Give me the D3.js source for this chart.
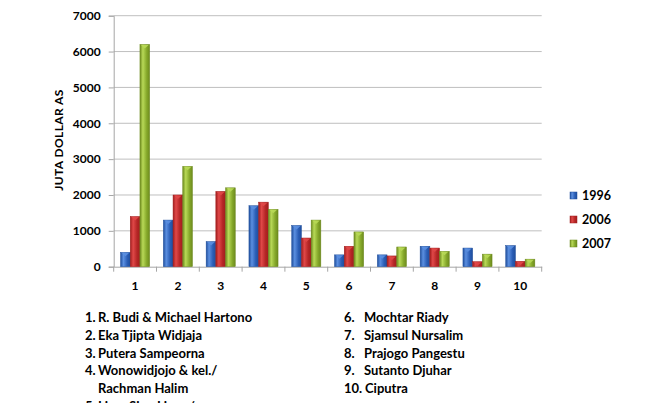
<!DOCTYPE html>
<html><head><meta charset="utf-8">
<script src="https://cdn.jsdelivr.net/npm/d3@7"></script>
<style>body{margin:0;background:#fff}svg{display:block}text{font-family:Lato,"Open Sans",sans-serif}</style>
</head><body><svg id="c" width="668" height="403"></svg>
<script>
const categories = ["1","2","3","4","5","6","7","8","9","10"];
const seriesNames = ["1996","2006","2007"];
const v1996 = [400,1300,700,1700,1150,330,330,570,520,590];
const v2006 = [1400,2000,2100,1800,800,570,300,520,140,150];
const v2007 = [6200,2800,2200,1600,1300,970,550,430,350,210];
const yTicks = [0,1000,2000,3000,4000,5000,6000,7000];
const namesLeft = [["1.","R. Budi & Michael Hartono"],["2.","Eka Tjipta Widjaja"],["3.","Putera Sampeorna"],["4.","Wonowidjojo & kel./"],["","Rachman Halim"],["5.","Liem Sioe Liong/"]];
const namesRight = [["6.","Mochtar Riady"],["7.","Sjamsul Nursalim"],["8.","Prajogo Pangestu"],["9.","Sutanto Djuhar"],["10.","Ciputra"]];

const svg = d3.select("#c");
const colors = [["#1f4e9c","#5b8fe0","#2a5db5"],["#a11d1d","#e04848","#b52626"],["#6d8a1e","#b8d957","#85a82a"]];
const defs = svg.append("defs");
colors.forEach((c,i)=>{
  const g = defs.append("linearGradient").attr("id","g"+i).attr("x1","0").attr("x2","1").attr("y1","0").attr("y2","0");
  g.append("stop").attr("offset","0").attr("stop-color",c[0]);
  g.append("stop").attr("offset","0.3").attr("stop-color",c[1]);
  g.append("stop").attr("offset","0.7").attr("stop-color",c[2]);
  g.append("stop").attr("offset","1").attr("stop-color",c[0]);
});

const L=113.7, R=541.7, T=15.7, B=266.7;
const x0 = d3.scaleBand().domain(categories).range([L,R]);
const y = d3.scaleLinear().domain([0,7000]).range([B,T]);

// gridlines
svg.append("g").selectAll("line").data(yTicks.slice(1)).join("line")
  .attr("x1",L).attr("x2",R).attr("y1",d=>y(d)).attr("y2",d=>y(d))
  .attr("stroke","#bfbfbf").attr("stroke-width",1);

// y axis
const ya = svg.append("g").attr("transform",`translate(${L},0)`).call(d3.axisLeft(y).tickValues(yTicks).tickSize(5).tickPadding(8).tickFormat(d3.format("d")));
ya.select(".domain").attr("stroke","#a6a6a6");
ya.selectAll(".tick line").attr("stroke","#a6a6a6");
ya.selectAll(".tick text").attr("font-size",12).attr("font-weight","bold").attr("fill","#000").attr("font-family","Lato,sans-serif");

// x axis
const xa = svg.append("g").attr("transform",`translate(0,${B})`).call(d3.axisBottom(x0).tickSize(0).tickPadding(15));
xa.select(".domain").attr("stroke","#a6a6a6");
xa.selectAll(".tick text").attr("font-size",12).attr("font-weight","bold").attr("fill","#000").attr("font-family","Lato,sans-serif");
svg.append("g").selectAll("line").data(d3.range(categories.length+1)).join("line")
  .attr("x1",i=>L+i*x0.step()).attr("x2",i=>L+i*x0.step()).attr("y1",B).attr("y2",B+5).attr("stroke","#a6a6a6");

// bars
const series = [v1996,v2006,v2007];
const w = (x0.step()*(1-0.32))/3;
series.forEach((vals,si)=>{
  const g = svg.append("g");
  const data = vals.map((v,i)=>({c:categories[i],v}));
  const bx = d=>x0(d.c) + x0.step()*0.16 + w*si;
  g.selectAll("rect").data(data).join("rect")
    .attr("x",bx).attr("width",w).attr("y",d=>y(d.v)).attr("height",d=>B-y(d.v))
    .attr("fill",`url(#g${si})`).attr("stroke",colors[si][0]).attr("stroke-width",0.5);
  g.selectAll("path").data(data).join("path")
    .attr("d",d=>{const X=bx(d),Y=y(d.v);return `M${X+1},${Y+0.5} L${X+w-1},${Y+0.5} L${X+w/2},${Y+4} Z`;})
    .attr("fill",colors[si][1]).attr("opacity",0.9);
});

// legend
const lg = svg.append("g");
seriesNames.forEach((n,i)=>{
  const yy = 192 + i*24;
  lg.append("rect").attr("x",570).attr("y",yy).attr("width",7).attr("height",7).attr("fill",`url(#g${i})`).attr("stroke",colors[i][0]).attr("stroke-width",0.5);
  lg.append("text").attr("x",582).attr("y",yy+7.5).attr("font-size",12.5).attr("font-weight","bold").text(n);
});

// y title
svg.append("text").attr("transform","translate(63,140) rotate(-90)").attr("text-anchor","middle")
  .attr("font-size",12).attr("font-weight","bold").attr("letter-spacing","0.4").text("JUTA  DOLLAR  AS");

// names
const ng = svg.append("g");
namesLeft.forEach((d,i)=>{
  const yy = 322 + i*17.8;
  ng.append("text").attr("x",85).attr("y",yy).attr("font-size",13).attr("font-weight","bold").text(d[0]);
  ng.append("text").attr("x",98).attr("y",yy).attr("font-size",13).attr("font-weight","bold").text(d[1]);
});
namesRight.forEach((d,i)=>{
  const yy = 322 + i*17.8;
  ng.append("text").attr("x",344).attr("y",yy).attr("font-size",13).attr("font-weight","bold").text(d[0]);
  ng.append("text").attr("x",i===4?365:364).attr("y",yy).attr("font-size",13).attr("font-weight","bold").text(d[1]);
});
</script></body></html>
